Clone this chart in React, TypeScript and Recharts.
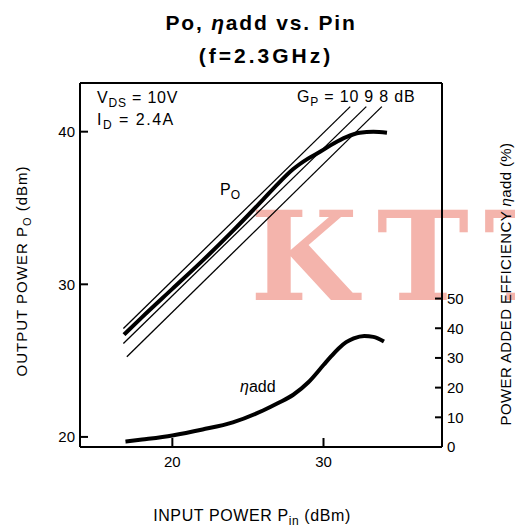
import React from 'react';
import { LineChart, Line, XAxis, YAxis, ReferenceLine } from 'recharts';

// Po vs Pin (dBm)
const poPin = [16.8, 18, 20, 22, 24, 26, 27, 28, 29, 29.8, 30.7, 31.5, 32.4, 33.3, 34.2];
const poOut = [26.7, 27.85, 29.7, 31.55, 33.5, 35.55, 36.6, 37.55, 38.25, 38.7, 39.25, 39.65, 39.93, 40.0, 39.93];

// power added efficiency (%)
const etaPin = [16.9, 18, 20, 22, 24, 26, 27, 28, 29, 30, 30.5, 31, 31.5, 32, 32.7, 33.3, 34];
const etaVal = [1.8, 2.5, 3.9, 5.9, 8.3, 12.3, 14.8, 17.6, 21.8, 27.6, 30.5, 33.2, 35.3, 36.6, 37.4, 37.1, 35.5];

// constant gain lines Gp = 10, 9, 8 dB (end points)
const gainLabels = ['10', '9', '8'];
const gainPinStart = [16.76, 16.76, 16.99];
const gainOutStart = [27.1, 26.12, 25.25];
const gainPinEnd = [31.77, 32.83, 33.86];
const gainOutEnd = [41.64, 41.64, 41.64];

const xTicks = [20, 30];
const leftTicks = [20, 30, 40];
const rightTicks = [0, 10, 20, 30, 40, 50];

const xDomain = [13.89, 37.84];
const leftDomain = [19.34, 43.19];
const rightDomain = [0, 122.6];

const poData = poPin.map((x, i) => ({ x, y: poOut[i] }));
const etaData = etaPin.map((x, i) => ({ x, y: etaVal[i] }));
const gainData = gainLabels.map((_, i) => [
  { x: gainPinStart[i], y: gainOutStart[i] },
  { x: gainPinEnd[i], y: gainOutEnd[i] },
]);

const FONT = '"Liberation Sans", Arial, sans-serif';

const LeftTick = (p: any) => (
  <g>
    <line x1={p.x + 4} x2={p.x + 12} y1={p.y} y2={p.y} stroke="#000" strokeWidth={2} />
    <text x={p.x - 1} y={p.y} dy="0.36em" textAnchor="end" fontSize={15} fontFamily={FONT} fill="#000">
      {p.payload.value}
    </text>
  </g>
);

const RightTick = (p: any) => (
  <g>
    <line x1={p.x - 11} x2={p.x - 4} y1={p.y} y2={p.y} stroke="#000" strokeWidth={2} />
    <text x={p.x + 1} y={p.y} dy="0.36em" textAnchor="start" fontSize={15} fontFamily={FONT} fill="#000">
      {p.payload.value}
    </text>
  </g>
);

const BottomTick = (p: any) => (
  <g>
    <line x1={p.x} x2={p.x} y1={p.y - 4} y2={p.y - 13} stroke="#000" strokeWidth={2} />
    <text x={p.x} y={p.y + 16} textAnchor="middle" fontSize={15} fontFamily={FONT} fill="#000">
      {p.payload.value}
    </text>
  </g>
);

export default function App() {
  return (
    <div style={{ position: 'absolute', left: 0, top: 0, width: 515, height: 527, background: '#fff' }}>
      <LineChart width={515} height={527} margin={{ top: 83, right: 33, bottom: 50, left: 40 }}>
        <text x={250} y={300} fontFamily='"DejaVu Serif", serif' fontWeight="bold" fontSize={124} letterSpacing={19} fill="#f4b4ac">
          KTT
        </text>
        <XAxis
          dataKey="x"
          type="number"
          domain={xDomain}
          ticks={xTicks}
          allowDataOverflow
          height={30}
          tickSize={0}
          tickMargin={4}
          tickLine={false}
          axisLine={{ stroke: '#000', strokeWidth: 2 }}
          tick={BottomTick}
        />
        <YAxis
          yAxisId="left"
          type="number"
          domain={leftDomain}
          ticks={leftTicks}
          allowDataOverflow
          width={40}
          tickSize={0}
          tickMargin={4}
          tickLine={false}
          axisLine={{ stroke: '#000', strokeWidth: 2 }}
          tick={LeftTick}
        />
        <YAxis
          yAxisId="right"
          orientation="right"
          type="number"
          domain={rightDomain}
          ticks={rightTicks}
          allowDataOverflow
          width={40}
          tickSize={0}
          tickMargin={4}
          tickLine={false}
          axisLine={{ stroke: '#000', strokeWidth: 2 }}
          tick={RightTick}
        />
        <ReferenceLine yAxisId="left" y={leftDomain[1]} stroke="#000" strokeWidth={2} />
        {gainData.map((d, i) => (
          <Line
            key={gainLabels[i]}
            yAxisId="left"
            data={d}
            dataKey="y"
            type="linear"
            stroke="#000"
            strokeWidth={1.3}
            dot={false}
            isAnimationActive={false}
          />
        ))}
        <Line yAxisId="left" data={poData} dataKey="y" type="monotone" stroke="#000" strokeWidth={4} dot={false} isAnimationActive={false} />
        <Line yAxisId="right" data={etaData} dataKey="y" type="monotone" stroke="#000" strokeWidth={4} dot={false} isAnimationActive={false} />

        <g fontFamily={FONT} fill="#000">
          <text x={261} y={30} textAnchor="middle" fontSize={21} fontWeight="bold" letterSpacing={1.8}>
            Po, <tspan fontStyle="italic">η</tspan>add vs. Pin
          </text>
          <text x={266} y={63} textAnchor="middle" fontSize={21} fontWeight="bold" letterSpacing={3}>
            (f=2.3GHz)
          </text>
          <text x={97} y={103} fontSize={16} letterSpacing={0.8}>
            V<tspan dy={4} fontSize={12}>DS</tspan><tspan dy={-4}> =  10V</tspan>
          </text>
          <text x={97} y={125} fontSize={16} letterSpacing={1.5}>
            I<tspan dy={4} fontSize={12}>D</tspan><tspan dy={-4}> = 2.4A</tspan>
          </text>
          <text x={297} y={102} fontSize={16} letterSpacing={0.8}>
            G<tspan dy={4} fontSize={12}>P</tspan><tspan dy={-4}> = {gainLabels.join(' ')} dB</tspan>
          </text>
          <text x={220} y={195} fontSize={16}>
            P<tspan dy={4} fontSize={12}>O</tspan>
          </text>
          <text x={240} y={392} fontSize={16}>
            <tspan fontStyle="italic">η</tspan>add
          </text>
          <text x={252} y={521} textAnchor="middle" fontSize={16} letterSpacing={0.6}>
            INPUT POWER P<tspan dy={4} fontSize={12}>in</tspan><tspan dy={-4}> (dBm)</tspan>
          </text>
          <text transform="translate(27,271) rotate(-90)" textAnchor="middle" fontSize={15} letterSpacing={1}>
            OUTPUT POWER P<tspan dy={4} fontSize={11}>O</tspan><tspan dy={-4}> (dBm)</tspan>
          </text>
          <text transform="translate(511,284) rotate(-90)" textAnchor="middle" fontSize={15} letterSpacing={0.4}>
            POWER ADDED EFFICIENCY <tspan fontStyle="italic">η</tspan>add (%)
          </text>
        </g>
      </LineChart>
    </div>
  );
}
